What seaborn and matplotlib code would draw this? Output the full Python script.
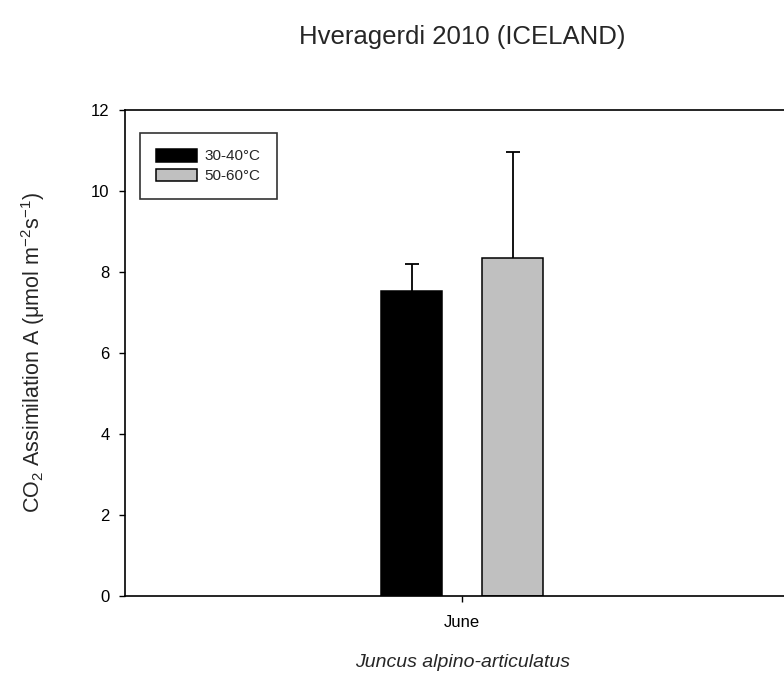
import pandas as pd
import matplotlib
matplotlib.use('Agg')
import matplotlib.pyplot as plt
import seaborn as sns

# values
months = ['June']
groups = ['30-40°C', '50-60°C']
means = [7.52, 8.35]
errors = [0.67, 2.60]
colors = ['#000000', '#c0c0c0']

data = pd.DataFrame({'Month': months * len(groups), 'Temp': groups, 'A': means})

sns.set_style('ticks')
plt.rcParams['font.family'] = ['Liberation Sans', 'DejaVu Sans']
plt.rcParams['mathtext.fontset'] = 'custom'
plt.rcParams['mathtext.rm'] = 'Liberation Sans'
plt.rcParams['mathtext.it'] = 'Liberation Sans:italic'
plt.rcParams['mathtext.default'] = 'regular'

fig = plt.figure(figsize=(7.84, 6.73), dpi=100)
ax = fig.add_axes([0.1594, 0.1144, 0.860, 0.7222])

sns.barplot(data=data, x='Month', y='A', hue='Temp', palette=colors,
            width=0.30, gap=0.40, errorbar=None, edgecolor='black',
            linewidth=1.1, ax=ax)

# upper-only error bars on each bar
bars = [p for p in ax.patches if p.get_height() > 0][:len(means)]
for p, e in zip(bars, errors):
    xc = p.get_x() + p.get_width() / 2
    eb = ax.errorbar(xc, p.get_height(), yerr=[[0], [e]], fmt='none',
                     ecolor='black', elinewidth=1.3, capsize=4.7, capthick=1.3)
    eb[1][0].set_visible(False)

ax.set_xlim(-0.5, 0.5)
ax.set_ylim(0, 12)
ax.set_yticks([0, 2, 4, 6, 8, 10, 12])
ax.tick_params(direction='out', length=4, width=1, labelsize=12, colors='black')
ax.tick_params(axis='y', pad=7)
ax.tick_params(axis='x', pad=10)
for s in ax.spines.values():
    s.set_linewidth(1.2)
    s.set_color('black')
ax.spines['right'].set_visible(False)

ax.set_xlabel('Juncus alpino-articulatus', style='italic', fontsize=14, labelpad=17)
ax.set_ylabel(r'CO$_2$ Assimilation A ($\mu$mol m$^{-2}$s$^{-1}$)', fontsize=15.5, labelpad=32)
fig.text(0.589, 0.945, 'Hveragerdi 2010 (ICELAND)', ha='center', va='center', fontsize=18.5)

leg = ax.legend(loc='upper left', bbox_to_anchor=(0.022, 0.953), frameon=True,
                fancybox=False, edgecolor='black', fontsize=11, title=None,
                handlelength=2.7, handleheight=0.9, borderpad=1.05, labelspacing=0.35,
                handletextpad=0.5, borderaxespad=0)
leg.get_frame().set_linewidth(1.2)

fig.savefig('out.png', dpi=100)
